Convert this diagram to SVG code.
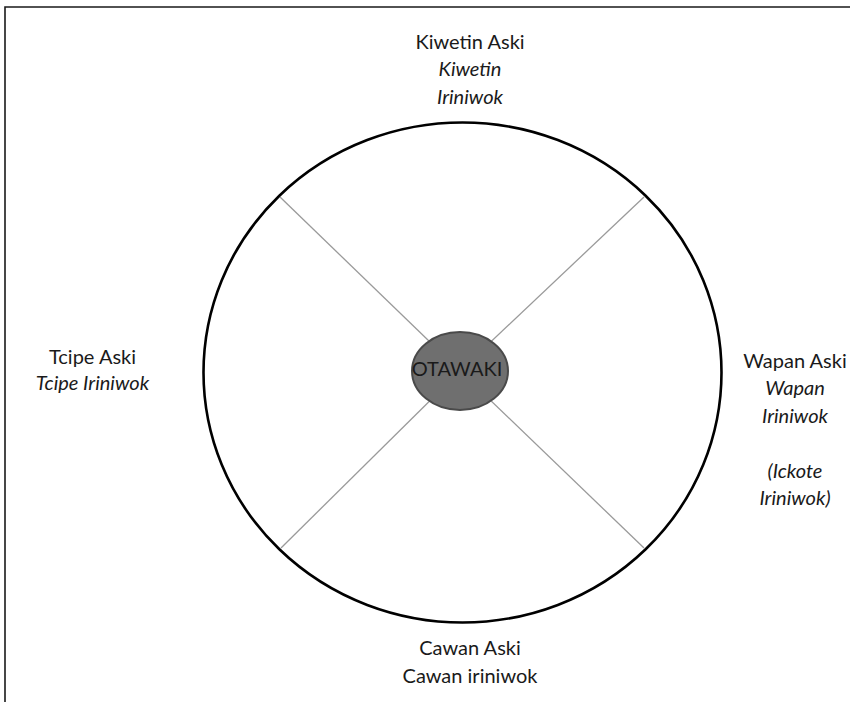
<svg xmlns="http://www.w3.org/2000/svg" width="850" height="702" viewBox="0 0 850 702">
<style>
.t{font-family:Lato,"Open Sans","Liberation Sans",sans-serif;font-size:20px;fill:#1a1a1a;text-anchor:middle}
.i{font-style:italic}
.spoke{stroke:#9a9a9a;stroke-width:1.3;fill:none}
</style>
<rect width="850" height="702" fill="#ffffff"/>
<g id="frame">
<path d="M5,702 V7 H850" fill="none" stroke="#1a1a1a" stroke-width="1.6"/>
</g>
<g id="connectors">
<line class="spoke" x1="280" y1="197" x2="460" y2="371"/>
<line class="spoke" x1="644" y1="197" x2="460" y2="371"/>
<line class="spoke" x1="281" y1="548" x2="460" y2="371"/>
<line class="spoke" x1="644" y1="548" x2="460" y2="371"/>
</g>
<g id="wheel">
<ellipse cx="462.5" cy="372.5" rx="259" ry="250" fill="none" stroke="#000" stroke-width="2.6"/>
</g>
<g id="otawaki">
<ellipse cx="460" cy="371" rx="48" ry="39" fill="#6f6f6f" stroke="#4a4a4a" stroke-width="2"/>
<text class="t" x="457" y="376">OTAWAKI</text>
</g>
<g id="kiwetin">
<text class="t" x="470" y="48.5">Kiwetin Aski</text>
<text class="t i" x="470" y="76">Kiwetin</text>
<text class="t i" x="470" y="103.5">Iriniwok</text>
</g>
<g id="tcipe">
<text class="t" x="92.5" y="363.5">Tcipe Aski</text>
<text class="t i" x="92.5" y="390">Tcipe Iriniwok</text>
</g>
<g id="wapan">
<text class="t" x="795" y="367.5">Wapan Aski</text>
<text class="t i" x="795" y="395">Wapan</text>
<text class="t i" x="795" y="422.5">Iriniwok</text>
<text class="t i" x="795" y="477.5">(Ickote</text>
<text class="t i" x="795" y="505">Iriniwok)</text>
</g>
<g id="cawan">
<text class="t" x="470" y="655">Cawan Aski</text>
<text class="t" x="470" y="682.5">Cawan iriniwok</text>
</g>
</svg>
